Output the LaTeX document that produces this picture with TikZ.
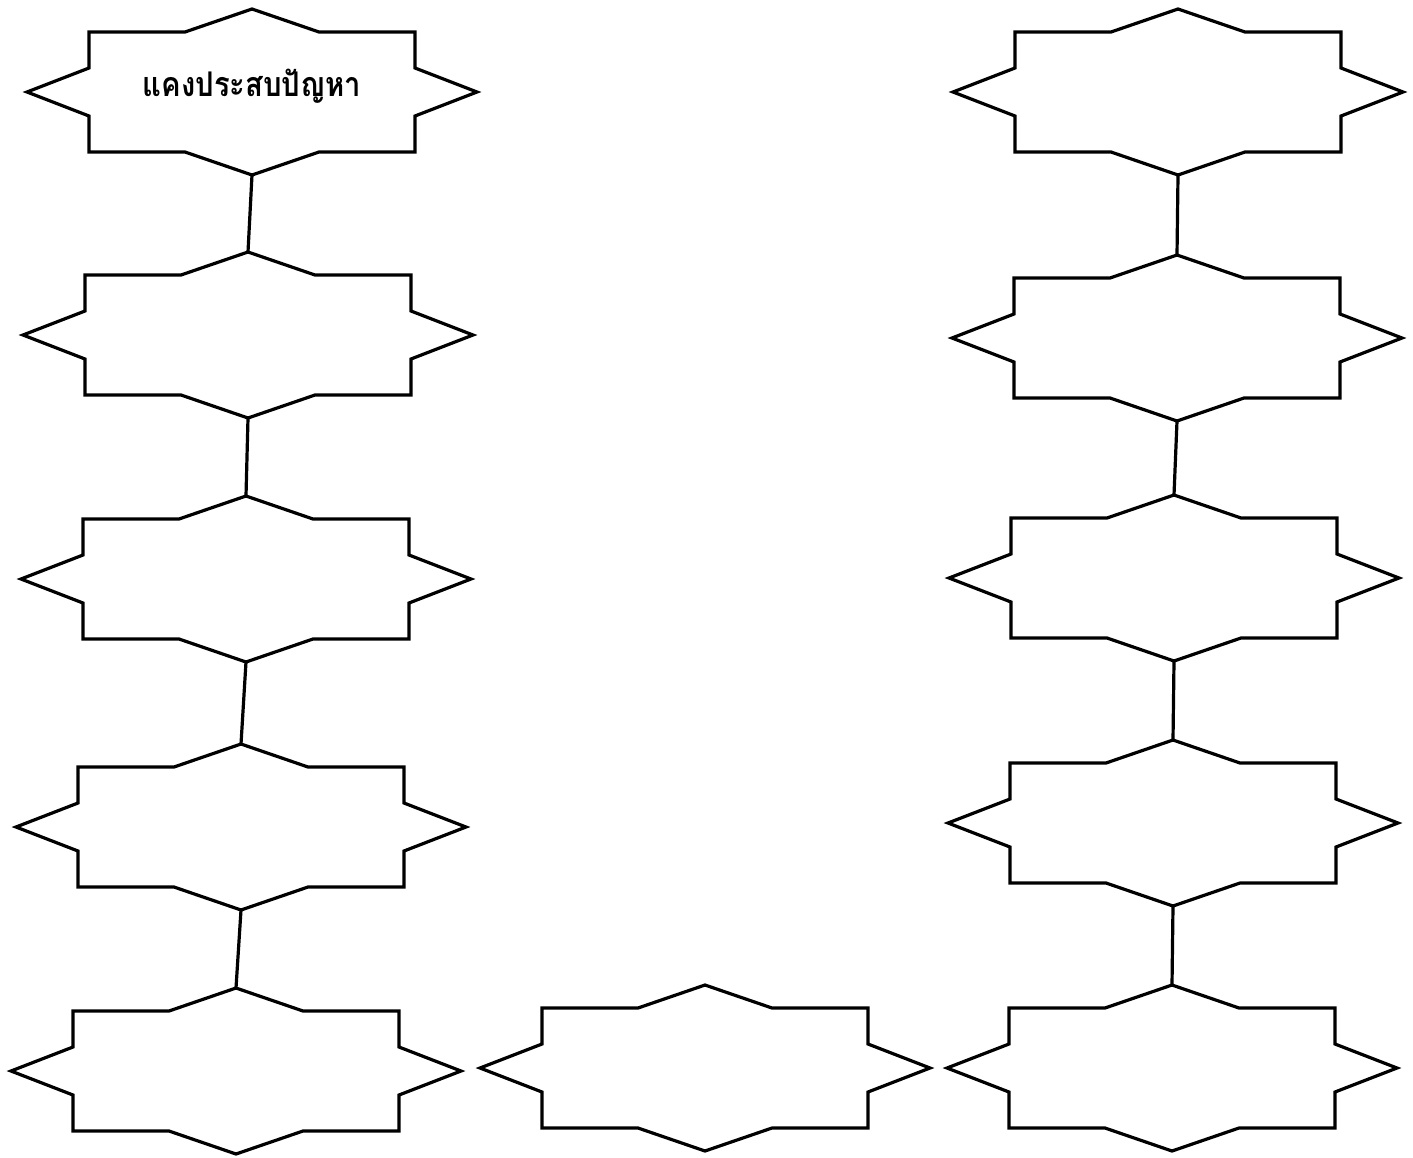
\documentclass[tikz,border=0pt]{standalone}
\usepackage{fontspec}
\newfontfamily\thaifont[Script=Thai]{Loma}
\tikzset{
  starline/.style={draw=black, line width=3.2pt, line join=miter, fill=white},
  link/.style={draw=black, line width=3.2pt},
  lbl/.style={font=\thaifont\bfseries\fontsize{34}{40}\selectfont, inner sep=0pt, anchor=base}
}
\newcommand\starbox[3]{%
  \begin{scope}[shift={(#2,#3)}]
    \draw[starline] (-225,0) -- (-163,-24) -- (-163,-60) -- (-67,-60) -- (0,-83)
      -- (67,-60) -- (163,-60) -- (163,-24) -- (225,0) -- (163,24) -- (163,60)
      -- (67,60) -- (0,83) -- (-67,60) -- (-163,60) -- (-163,24) -- cycle;
    \coordinate (#1) at (0,0);
    \coordinate (#1-t) at (0,-83);
    \coordinate (#1-b) at (0,83);
  \end{scope}}
\begin{document}
\begin{tikzpicture}[x=1pt,y=-1pt]
\useasboundingbox[fill=white] (0,0) rectangle (1413,1157);
% left column
\starbox{L1}{252}{92}
\starbox{L2}{248}{335}
\starbox{L3}{246}{579}
\starbox{L4}{241}{827}
\starbox{L5}{236}{1071}
% middle
\starbox{M}{705}{1068}
% right column
\starbox{R1}{1178}{92}
\starbox{R2}{1177}{338}
\starbox{R3}{1174}{578}
\starbox{R4}{1173}{823}
\starbox{R5}{1172}{1068}
% connectors
\draw[link] (L1-b) -- (L2-t);
\draw[link] (L2-b) -- (L3-t);
\draw[link] (L3-b) -- (L4-t);
\draw[link] (L4-b) -- (L5-t);
\draw[link] (R1-b) -- (R2-t);
\draw[link] (R2-b) -- (R3-t);
\draw[link] (R3-b) -- (R4-t);
\draw[link] (R4-b) -- (R5-t);
% label
\node[lbl] (T1) at (252,96) {\scalebox{0.86}[1]{แคงประสบปัญหา}};
\end{tikzpicture}
\end{document}
